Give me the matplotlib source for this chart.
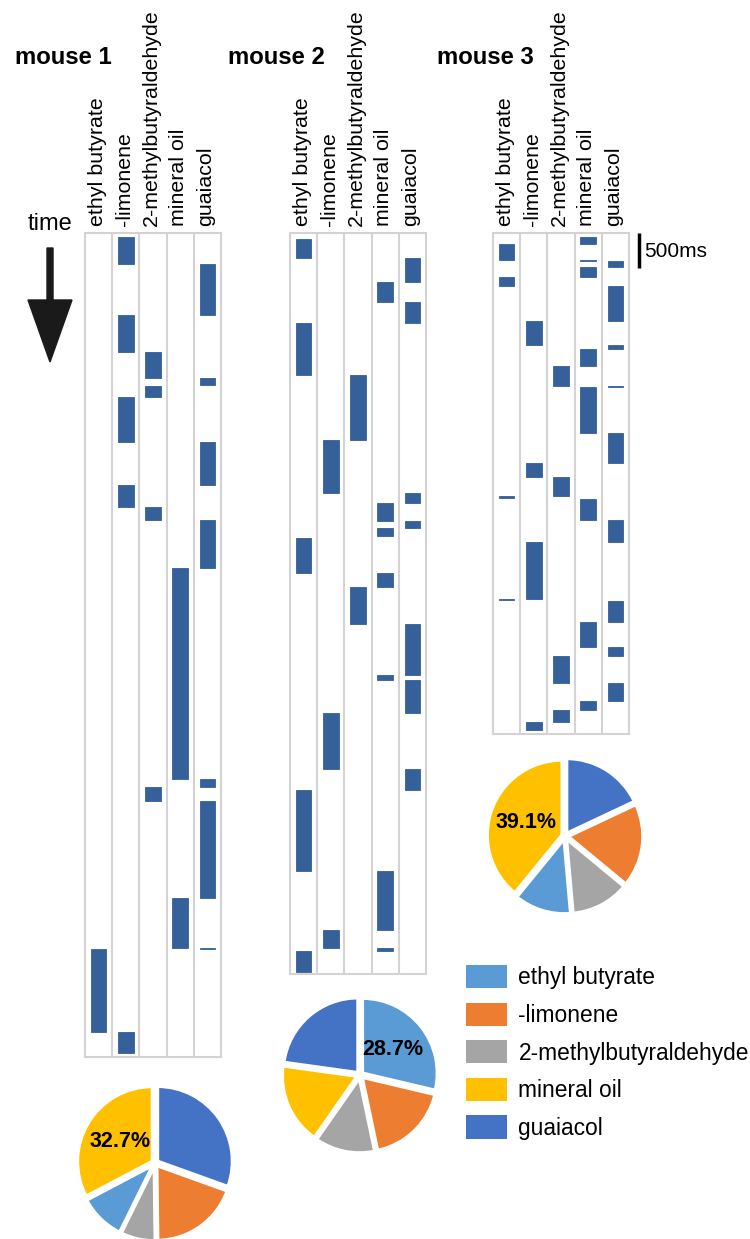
import matplotlib.pyplot as plt
from matplotlib.patches import Patch, Polygon
import numpy as np

plt.rcParams['font.family'] = ['Liberation Sans', 'DejaVu Sans']

# ---- data ----
odors = ['ethyl butyrate', '-limonene', '2-methylbutyraldehyde', 'mineral oil', 'guaiacol']
pie_colors = ['#5B9BD5', '#ED7D31', '#A5A5A5', '#FFC000', '#4472C4']
mice = ['mouse 1', 'mouse 2', 'mouse 3']

# trial length (s)
trial_len = [11.77, 10.59, 7.15]

# sampling bouts (start, end) in s, one list per odour column
m1_ethyl = [(10.23, 11.42)]
m1_limonene = [(0.05, 0.44), (1.17, 1.70), (2.34, 2.98), (3.60, 3.91), (11.42, 11.72)]
m1_methyl = [(1.70, 2.07), (2.18, 2.34), (3.91, 4.10), (7.92, 8.12)]
m1_oil = [(4.78, 7.80), (9.50, 10.21)]
m1_guaiacol = [(0.44, 1.17), (2.07, 2.17), (2.98, 3.60), (4.10, 4.78),
               (7.80, 7.92), (8.12, 9.50), (10.21, 10.23)]

m2_ethyl = [(0.08, 0.36), (1.29, 2.03), (4.35, 4.85), (7.96, 9.11), (10.26, 10.55)]
m2_limonene = [(2.95, 3.71), (6.85, 7.65), (9.96, 10.21)]
m2_methyl = [(2.03, 2.95), (5.06, 5.58)]
m2_oil = [(0.70, 0.98), (3.85, 4.11), (4.21, 4.33), (4.85, 5.06), (6.31, 6.39),
          (9.11, 9.96), (10.21, 10.26)]
m2_guaiacol = [(0.36, 0.70), (0.98, 1.28), (3.71, 3.85), (4.11, 4.21), (5.58, 6.31),
               (6.39, 6.85), (7.65, 7.96)]

m3_ethyl = [(0.15, 0.38), (0.63, 0.75), (3.76, 3.79), (5.23, 5.25)]
m3_limonene = [(1.26, 1.60), (3.29, 3.49), (4.41, 5.23), (6.99, 7.10)]
m3_methyl = [(1.90, 2.18), (3.49, 3.76), (6.05, 6.43), (6.82, 6.99)]
m3_oil = [(0.06, 0.15), (0.38, 0.40), (0.48, 0.63), (1.66, 1.90), (2.20, 2.85),
          (3.80, 4.10), (5.56, 5.91), (6.69, 6.82)]
m3_guaiacol = [(0.40, 0.48), (0.75, 1.26), (1.60, 1.66), (2.18, 2.20), (2.85, 3.29),
               (4.10, 4.41), (5.25, 5.56), (5.91, 6.05), (6.43, 6.69)]

bouts = [
    [m1_ethyl, m1_limonene, m1_methyl, m1_oil, m1_guaiacol],
    [m2_ethyl, m2_limonene, m2_methyl, m2_oil, m2_guaiacol],
    [m3_ethyl, m3_limonene, m3_methyl, m3_oil, m3_guaiacol],
]

# time share per odour (%), legend order
pie1 = [10.0, 19.3, 7.5, 32.7, 30.5]
pie2 = [28.7, 18.0, 13.0, 17.5, 22.8]
pie3 = [12.3, 18.0, 12.6, 39.1, 18.0]
pies = [pie1, pie2, pie3]
# clockwise wedge order from 12 o'clock
pie_order = [[4, 1, 2, 0, 3], [0, 1, 2, 3, 4], [4, 1, 2, 0, 3]]

# ---- layout (pixels) ----
W, H = 750, 1239
px_per_s = 70          # 35 px = 500 ms
panel_left = [85, 290, 493]
panel_top = 233
panel_w = 136
title_x = [15, 228, 437]
pie_center = [(155, 1163), (360, 1075), (565, 836)]
pie_r = 75

bar_color = '#35609A'
grid_color = '#D3D3D3'


def frac(x, y, w, h):
    return [x / W, 1 - (y + h) / H, w / W, h / H]


fig = plt.figure(figsize=(W / 100, H / 100), dpi=100)

for k in range(3):
    h = trial_len[k] * px_per_s
    ax = fig.add_axes(frac(panel_left[k], panel_top, panel_w, h))
    for j, col in enumerate(bouts[k]):
        for s, e in col:
            ax.bar(j + 0.5, e - s, bottom=s, width=0.58, color=bar_color,
                   edgecolor=bar_color, linewidth=0.6)
    for j in range(1, 5):
        ax.axvline(j, color=grid_color, lw=1.5)
    ax.set_xlim(0, 5)
    ax.set_ylim(trial_len[k], 0)
    ax.set_xticks([])
    ax.set_yticks([])
    for sp in ax.spines.values():
        sp.set_color(grid_color)
        sp.set_linewidth(1.5)
    for j, name in enumerate(odors):
        ax.annotate(name, xy=(j + 0.45, 1), xycoords=('data', 'axes fraction'),
                    xytext=(0, 7), textcoords='offset pixels', rotation=90,
                    ha='center', va='bottom', fontsize=15.4)
    fig.text(title_x[k] / W, 1 - 57 / H, mice[k], fontsize=17.2,
             fontweight='bold', ha='left', va='center')
    if k == 2:
        ax.plot([5.37, 5.37], [0, 0.5], color='black', lw=2.5,
                clip_on=False, solid_capstyle='butt')
        ax.text(5.55, 0.27, '500ms', ha='left', va='center', fontsize=15,
                clip_on=False)

# pies
for k in range(3):
    cx, cy = pie_center[k]
    size = 2.2 * pie_r
    axp = fig.add_axes(frac(cx - size / 2, cy - size / 2, size, size))
    order = pie_order[k]
    vals = [pies[k][i] for i in order]
    cols = [pie_colors[i] for i in order]
    wedges, _ = axp.pie(vals, colors=cols, startangle=90, counterclock=False,
                        explode=[0.04] * 5,
                        wedgeprops=dict(edgecolor='white', linewidth=2.5))
    axp.set_xlim(-1.1, 1.1)
    axp.set_ylim(-1.1, 1.1)
    top = int(np.argmax(vals))
    w = wedges[top]
    ang = np.deg2rad((w.theta1 + w.theta2) / 2)
    axp.text(0.55 * np.cos(ang), 0.55 * np.sin(ang), f'{vals[top]:.1f}%',
             ha='center', va='center', fontsize=15.5, fontweight='bold')

# overlay for the time arrow
ov = fig.add_axes([0, 0, 1, 1])
ov.set_xlim(0, W)
ov.set_ylim(H, 0)
ov.axis('off')
ov.patch.set_alpha(0)
ov.text(50, 230, 'time', ha='center', va='baseline', fontsize=17)
ov.add_patch(Polygon([(47, 248), (53, 248), (53, 300), (72, 300), (50, 362),
                      (28, 300), (47, 300)], closed=True, color='#1a1a1a'))

handles = [Patch(facecolor=c, label=o) for c, o in zip(pie_colors, odors)]
fig.legend(handles=handles, loc='upper left', bbox_to_anchor=(466 / W, 1 - 965 / H),
           frameon=False, fontsize=16.4, handlelength=1.8, handleheight=1.2,
           handletextpad=0.5, labelspacing=0.58, borderpad=0, borderaxespad=0)

fig.savefig('out.png', dpi=100)
